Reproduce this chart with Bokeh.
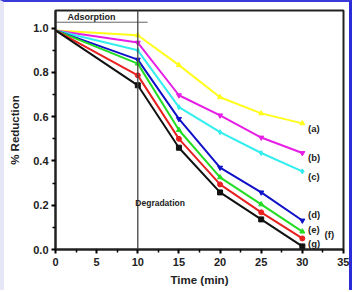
from bokeh.plotting import figure
from bokeh.models import Span, Label, FixedTicker, Range1d
from bokeh.embed import file_html
from bokeh.resources import INLINE

# Sampling times (min)
time_min = [0, 10, 15, 20, 25, 30]

# Fraction remaining for each sample
series_a = [0.99, 0.968, 0.833, 0.688, 0.615, 0.570]
series_b = [0.99, 0.935, 0.697, 0.606, 0.506, 0.436]
series_c = [0.99, 0.900, 0.643, 0.530, 0.436, 0.353]
series_d = [0.99, 0.858, 0.590, 0.370, 0.258, 0.131]
series_e = [0.99, 0.840, 0.540, 0.326, 0.204, 0.081]
series_f = [0.99, 0.787, 0.500, 0.294, 0.168, 0.050]
series_g = [0.99, 0.742, 0.460, 0.258, 0.136, 0.014]

series_names = ["(a)", "(b)", "(c)", "(d)", "(e)", "(f)", "(g)"]
series_values = [series_a, series_b, series_c, series_d, series_e, series_f, series_g]
series_colors = ["#FFFF1A", "#E61EE6", "#33EEEE", "#1010C8", "#22DD22", "#E82020", "#111111"]
series_markers = ["triangle", "inverted_triangle", "diamond", "inverted_triangle",
                  "triangle", "circle", "square"]

# Label anchor points (x, y) next to the final points
label_x = [30.7, 30.7, 30.7, 30.7, 30.7, 32.7, 30.7]
label_y = [0.547, 0.416, 0.330, 0.158, 0.090, 0.068, 0.027]

x_ticks = [0, 5, 10, 15, 20, 25, 30, 35]
y_ticks = [0.0, 0.2, 0.4, 0.6, 0.8, 1.0]

FONT = "Liberation Sans"

# 352 x 290 canvas plus a 4/3 px side border and 2 px top border = 359 x 292 page
p = figure(width=352, height=290, output_backend="svg", toolbar_location=None,
           x_range=Range1d(0, 35), y_range=Range1d(0, 1.08),
           min_border_left=51, min_border_right=13, min_border_top=8, min_border_bottom=43)
p.styles = {"border-top": "2px solid #3a3ad8", "border-right": "3px solid #2b2bd8",
            "border-left": "4px solid #e6e6f6"}

p.grid.visible = False
p.outline_line_color = "#222222"
p.outline_line_width = 2
p.background_fill_color = "white"
p.border_fill_color = "white"

for ax in (p.xaxis[0], p.yaxis[0]):
    ax.axis_line_width = 2
    ax.axis_line_color = "#222222"
    ax.major_tick_line_width = 2
    ax.minor_tick_line_width = 1.5
    ax.major_tick_out = 4
    ax.major_tick_in = 0
    ax.minor_tick_out = 3
    ax.minor_tick_in = 0
    ax.major_label_text_font = FONT
    ax.major_label_text_font_style = "bold"
    ax.major_label_text_font_size = "11px"
    ax.major_label_text_color = "#222222"
    ax.axis_label_text_font = FONT
    ax.axis_label_text_font_style = "bold"
    ax.axis_label_text_font_size = "11.5px"
    ax.axis_label_text_color = "#222222"

p.xaxis.ticker = FixedTicker(ticks=x_ticks, minor_ticks=[2.5 + 5 * i for i in range(7)])
p.yaxis.ticker = FixedTicker(ticks=y_ticks, minor_ticks=[0.1, 0.3, 0.5, 0.7, 0.9])
p.yaxis.major_label_overrides = {t: f"{t:.1f}" for t in y_ticks}
p.xaxis.axis_label = "Time (min)"
p.yaxis.axis_label = "% Reduction"
p.xaxis.major_label_standoff = 4
p.yaxis.major_label_standoff = 3
p.xaxis.axis_label_standoff = 5
p.yaxis.axis_label_standoff = 9

# Boundary between adsorption and degradation stages
p.add_layout(Span(location=10, dimension="height", line_color="#444444", line_width=1.3))
p.segment(x0=[0], y0=[1.027], x1=[11.2], y1=[1.027], line_color="#666666", line_width=1)
p.add_layout(Label(x=1.45, y=1.03, text="Adsorption", text_font=FONT, text_font_style="bold",
                   text_font_size="9px", text_color="#222222", text_baseline="bottom"))
p.add_layout(Label(x=9.7, y=0.208, text="Degradation", text_font=FONT, text_font_style="bold",
                   text_font_size="8.5px", text_color="#222222", text_baseline="middle"))

for name, vals, col, mk, lx, ly in zip(series_names, series_values, series_colors,
                                       series_markers, label_x, label_y):
    p.line(time_min, vals, line_color=col, line_width=2)
    p.scatter(time_min[1:], vals[1:], marker=mk, size=5, fill_color=col, line_color=col)
    p.add_layout(Label(x=lx, y=ly, text=name, text_font=FONT, text_font_style="bold",
                       text_font_size="9.5px", text_color="#222222", text_baseline="middle"))

open("out.html", "w").write(file_html(p, INLINE))
